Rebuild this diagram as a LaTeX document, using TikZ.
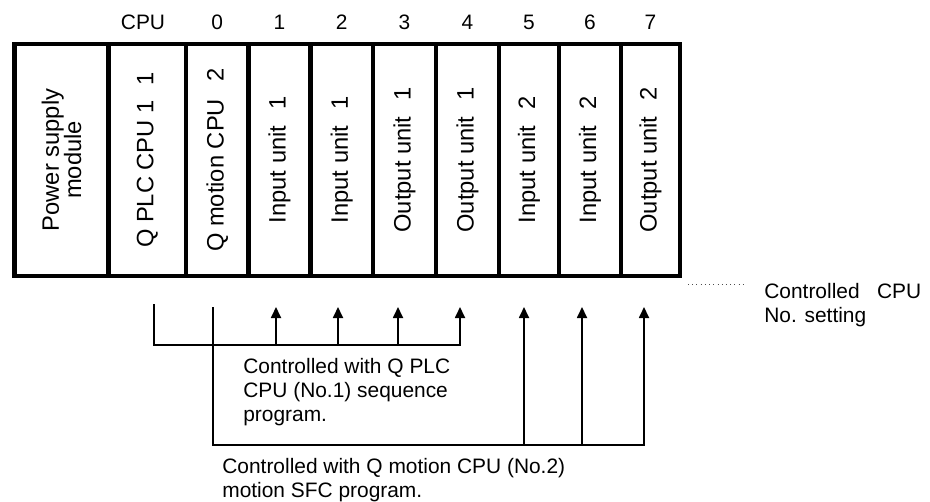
\documentclass[tikz,border=0pt]{standalone}
\usepackage{fontspec}
\setmainfont{Liberation Sans}
\usetikzlibrary{arrows.meta,calc}

\begin{document}
\begin{tikzpicture}[
  slot/.style={rectangle,draw=black,line width=2.8pt,rotate=90,minimum width=4.64cm,inner sep=0pt,align=center,font=\fontsize{13.5}{12.6}\selectfont},
  num/.style={anchor=base,font=\fontsize{11.9}{13.6}\selectfont},
  note/.style={anchor=north west,inner sep=0pt,align=left,font=\fontsize{11.9}{13.6}\selectfont},
  feed/.style={line width=1pt,-{Triangle[width=0.2cm,length=0.22cm]}},
  leader/.style={dotted,line width=0.4pt,black!70}
]
\useasboundingbox (0,0) rectangle (18.6,-10.02);

% base unit, one slot per module
\node[slot,minimum height=1.88cm] (u0) at (1.23,-3.2)  {Power supply\\module};
\node[slot,minimum height=1.55cm] (u1) at (2.945,-3.2) {Q PLC CPU 1\hspace{8.5pt}1};
\node[slot,minimum height=1.25cm] (u2) at (4.345,-3.2) {Q motion CPU\hspace{10pt}2};
\node[slot,minimum height=1.24cm] (u3) at (5.59,-3.2)  {Input unit\hspace{9pt}1};
\node[slot,minimum height=1.25cm] (u4) at (6.835,-3.2) {Input unit\hspace{9pt}1};
\node[slot,minimum height=1.26cm] (u5) at (8.09,-3.2)  {Output unit\hspace{9pt}1};
\node[slot,minimum height=1.26cm] (u6) at (9.35,-3.2)  {Output unit\hspace{9pt}1};
\node[slot,minimum height=1.20cm] (u7) at (10.58,-3.2) {Input unit\hspace{9pt}2};
\node[slot,minimum height=1.24cm] (u8) at (11.80,-3.2) {Input unit\hspace{9pt}2};
\node[slot,minimum height=1.18cm] (u9) at (13.01,-3.2) {Output unit\hspace{9pt}2};

% slot numbers
\node[num] (n1) at (2.86,-0.60)  {CPU};
\node[num] (n2) at (4.345,-0.60) {0};
\node[num] (n3) at (5.59,-0.60)  {1};
\node[num] (n4) at (6.835,-0.60) {2};
\node[num] (n5) at (8.09,-0.60)  {3};
\node[num] (n6) at (9.35,-0.60)  {4};
\node[num] (n7) at (10.58,-0.60) {5};
\node[num] (n8) at (11.80,-0.60) {6};
\node[num] (n9) at (13.01,-0.60) {7};

% control lines
\coordinate (a0) at (3.08,-6.08);
\coordinate (a1) at (0,-6.90);
\coordinate (b0) at (4.26,-6.14);
\coordinate (b1) at (0,-8.90);
\foreach \n/\x in {1/5.52,2/6.76,3/7.96,4/9.20,5/10.48,6/11.64,7/12.88}
  \coordinate (t\n) at (\x,-6.14);

\draw[feed] (a0) |- (t4 |- a1) -- (t4);
\foreach \n in {1,2,3}
  \draw[feed] (t\n |- a1) -- (t\n);
\draw[feed] (b0) |- (t7 |- b1) -- (t7);
\foreach \n in {5,6}
  \draw[feed] (t\n |- b1) -- (t\n);

\node[note] (plc) at (4.86,-7.16) {Controlled with Q PLC\\CPU (No.1) sequence\\program.};
\node[note] (mot) at (4.44,-9.16) {Controlled with Q motion CPU (No.2)\\motion SFC program.};

% controlled CPU setting
\node[note] (cno) at (15.28,-5.66) {Controlled\ \ \ CPU\\No. setting};
\coordinate (l0) at (13.76,-5.68);
\draw[leader] (l0) -- ([xshift=-0.38cm]l0 -| cno.west);

\end{tikzpicture}
\end{document}
